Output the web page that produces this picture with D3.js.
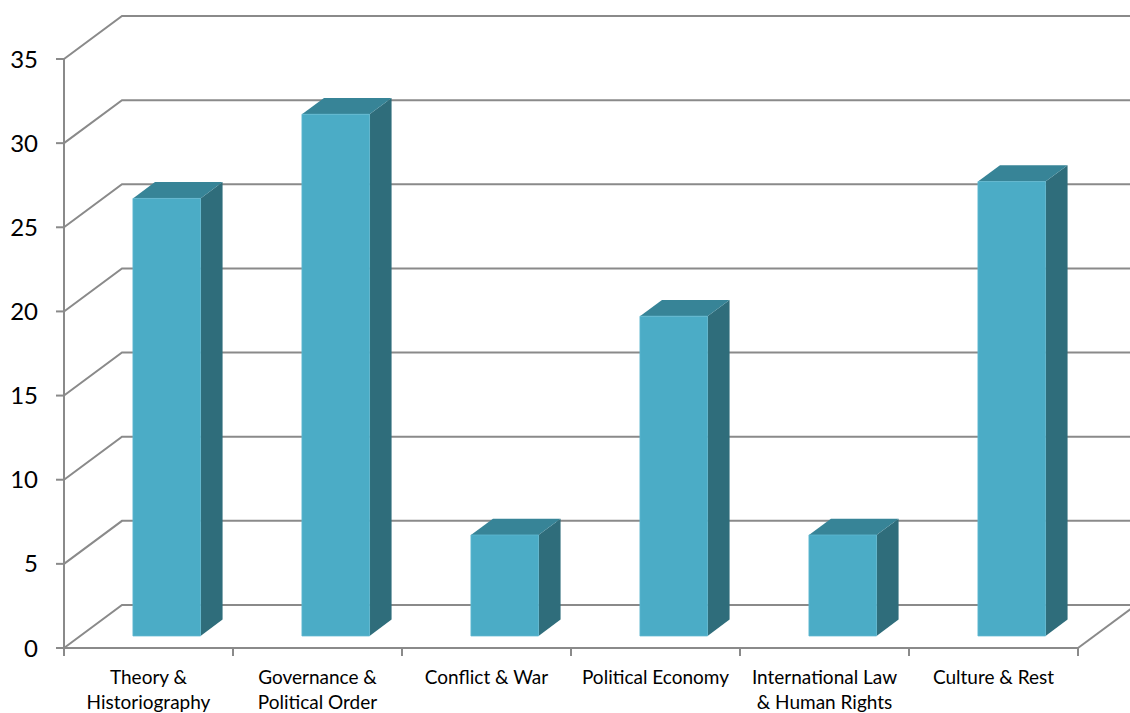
<!DOCTYPE html>
<html>
<head>
<meta charset="utf-8">
<script src="https://cdn.jsdelivr.net/npm/d3@7"></script>
<style>
  html, body { margin: 0; padding: 0; background: #ffffff; }
  svg { display: block; }
  text { font-family: Lato, "Noto Sans", sans-serif; fill: #000; }
</style>
</head>
<body>
<svg id="chart" width="1130" height="713"></svg>
<script>
// Category names (one entry per line of the axis label)
const categories = [
  ["Theory &", "Historiography"],
  ["Governance &", "Political Order"],
  ["Conflict & War"],
  ["Political Economy"],
  ["International Law", "& Human Rights"],
  ["Culture & Rest"]
];
// Bar heights
const values = [26, 31, 6, 19, 6, 27];
// Value-axis ticks
const yTicks = [0, 5, 10, 15, 20, 25, 30, 35];

const W = 1130, H = 713;
const svg = d3.select("#chart");

// Front plane of the 3-D box and the depth offset to the back wall
const plotLeft = 64, plotRight = 1078, plotTop = 59, plotBottom = 648;
const DX = 58, DY = 43;

const x = d3.scaleBand()
  .domain(d3.range(categories.length))
  .range([plotLeft, plotRight])
  .paddingInner(0).paddingOuter(0);

const y = d3.scaleLinear().domain([0, 35]).range([plotBottom, plotTop]);

// Project a (screen x, screen y, depth fraction) point
const P = (px, py, z) => [px + z * DX, py - z * DY];

const gridColor = "#8a8a8a";

// Gridlines: left-wall diagonal + back-wall horizontal
const grid = svg.append("g");
yTicks.forEach(t => {
  const yy = y(t);
  const a = [plotLeft, yy], b = P(plotLeft, yy, 1);
  grid.append("path")
    .attr("d", `M${a[0]},${a[1]} L${b[0]},${b[1]} L${W + 10},${b[1]}`)
    .attr("fill", "none")
    .attr("stroke", gridColor)
    .attr("stroke-width", 2);
});

// Floor right edge
{
  const a = [plotRight, plotBottom], b = P(plotRight, plotBottom, 1);
  grid.append("path")
    .attr("d", `M${a[0]},${a[1]} L${b[0]},${b[1]}`)
    .attr("fill", "none").attr("stroke", gridColor).attr("stroke-width", 2);
}

// Bars sit in the middle of the depth, slightly right of band centre
const z0 = 0.28, z1 = 0.66;
const barW = x.bandwidth() * 0.4;
const barShift = 2;
const colFront = "#4bacc6", colTop = "#378497", colSide = "#2f6d7b";

const bars = svg.append("g");
values.forEach((v, i) => {
  const cx = x(i) + x.bandwidth() / 2 + barShift;
  const x0 = cx - barW / 2, x1 = cx + barW / 2;
  const yb = y(0), yt = y(v);
  const f = [P(x0, yt, z0), P(x1, yt, z0), P(x1, yb, z0), P(x0, yb, z0)];
  const bk = [P(x0, yt, z1), P(x1, yt, z1), P(x1, yb, z1)];
  const poly = pts => "M" + pts.map(p => p.join(",")).join("L") + "Z";
  // side face
  bars.append("path").attr("d", poly([f[1], bk[1], bk[2], f[2]])).attr("fill", colSide);
  // top face
  bars.append("path").attr("d", poly([f[0], bk[0], bk[1], f[1]])).attr("fill", colTop);
  // front face
  bars.append("path").attr("d", poly(f)).attr("fill", colFront)
    .attr("stroke", "#5fb8d0").attr("stroke-width", 0.8);
});

// Axes
const axes = svg.append("g");
axes.append("line")
  .attr("x1", plotLeft).attr("x2", plotLeft).attr("y1", y(35)).attr("y2", plotBottom)
  .attr("stroke", gridColor).attr("stroke-width", 2);
axes.append("line")
  .attr("x1", plotLeft).attr("x2", plotRight).attr("y1", plotBottom).attr("y2", plotBottom)
  .attr("stroke", gridColor).attr("stroke-width", 2);

yTicks.forEach(t => {
  axes.append("line")
    .attr("x1", plotLeft - 8).attr("x2", plotLeft).attr("y1", y(t)).attr("y2", y(t))
    .attr("stroke", gridColor).attr("stroke-width", 2);
  axes.append("text")
    .attr("x", 38).attr("y", y(t)).attr("dy", "0.36em")
    .attr("text-anchor", "end")
    .style("font-size", "24px")
    .text(t);
});

d3.range(categories.length + 1).forEach(i => {
  const xx = plotLeft + i * x.bandwidth();
  axes.append("line")
    .attr("x1", xx).attr("x2", xx).attr("y1", plotBottom).attr("y2", plotBottom + 8)
    .attr("stroke", gridColor).attr("stroke-width", 2);
});

categories.forEach((lines, i) => {
  const cx = x(i) + x.bandwidth() / 2;
  const t = axes.append("text")
    .attr("x", cx).attr("text-anchor", "middle")
    .style("font-size", "19px");
  lines.forEach((ln, k) => {
    t.append("tspan").attr("x", cx).attr("y", 684 + k * 25).text(ln);
  });
});
</script>
</body>
</html>
